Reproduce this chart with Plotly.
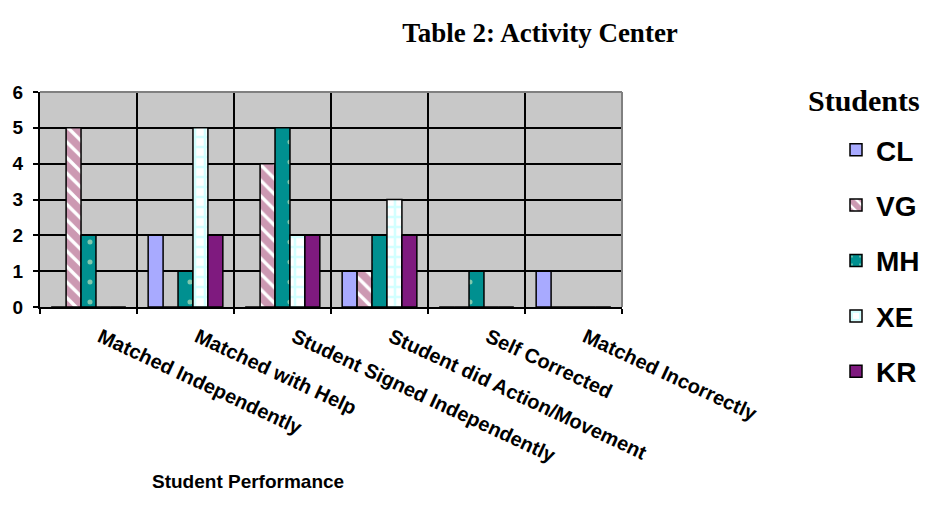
import plotly.graph_objects as go

categories = ["Matched Independently", "Matched with Help", "Student Signed Independently",
              "Student did Action/Movement", "Self Corrected", "Matched Incorrectly"]
students = ["CL", "VG", "MH", "XE", "KR"]
cl = [0, 2, 0, 1, 0, 1]
vg = [5, 0, 4, 1, 0, 0]
mh = [2, 1, 5, 2, 1, 0]
xe = [0, 5, 2, 3, 0, 0]
kr = [0, 2, 2, 2, 0, 0]
y_ticks = [0, 1, 2, 3, 4, 5, 6]

series = [cl, vg, mh, xe, kr]
styles = [
    dict(color="#A8AAFF", pattern=dict(shape="")),
    dict(color="#FFFFFF", pattern=dict(shape="\\", fgcolor="#993366", bgcolor="#FFFFFF", size=11, solidity=0.7)),
    dict(color="#009090", pattern=dict(shape=".", fgcolor="#FFFFCC", bgcolor="#009090", size=20, solidity=0.05)),
    dict(color="#FFFFFF", pattern=dict(shape="+", fgcolor="#A8FFFF", bgcolor="#FFFFFF", size=10, solidity=0.45)),
    dict(color="#7F1A7F", pattern=dict(shape="")),
]

fig = go.Figure()
for name, vals, st in zip(students, series, styles):
    fig.add_trace(go.Bar(
        x=categories, y=vals, name=name, legendgroup=name,
        marker=dict(color=st["color"], pattern=st["pattern"],
                    line=dict(color="#000000", width=1.5)),
    ))

W, H = 926, 518
fig.update_layout(
    width=W, height=H,
    margin=dict(l=40, r=304, t=92, b=211, autoexpand=False),
    paper_bgcolor="#FFFFFF",
    plot_bgcolor="#C8C8C8",
    barmode="group", bargap=0.23, bargroupgap=0,
    title=dict(text="Table 2: Activity Center", x=540 / W, xanchor="center",
               y=1 - 33 / H, yanchor="middle",
               font=dict(family="Liberation Serif", size=27, color="#000000", weight="bold")),
    legend=dict(
        xref="container", yref="container",
        x=836 / W, xanchor="left", y=1 - 125 / H, yanchor="top",
        traceorder="grouped", tracegroupgap=16, maxheight=450,
        font=dict(family="Liberation Sans", size=28, color="#000000", weight="bold"),
        bgcolor="rgba(0,0,0,0)",
    ),
    font=dict(family="Liberation Sans", color="#000000"),
)
fig.update_xaxes(
    type="category", tickson="boundaries", showgrid=True, gridcolor="#000000", gridwidth=2,
    ticks="outside", ticklen=5, tickcolor="#000000", tickwidth=2,
    tickangle=25, ticklabelshift=12, ticklabelstandoff=9,
    tickfont=dict(family="Liberation Sans", size=20, color="#000000", weight="bold"),
    showline=True, linecolor="#000000", linewidth=2, mirror=False,
    automargin=False,
)
fig.update_yaxes(
    range=[0, 6], tickvals=y_ticks,
    showgrid=True, gridcolor="#000000", gridwidth=2, zeroline=False,
    ticks="outside", ticklen=5, tickcolor="#000000", tickwidth=2, ticklabelstandoff=6,
    tickfont=dict(family="Liberation Sans", size=19, color="#000000", weight="bold"),
    showline=True, linecolor="#000000", linewidth=2, automargin=False,
)
# gray frame on top/right
fig.add_shape(type="line", xref="paper", yref="paper", x0=0, x1=1, y0=1, y1=1,
              line=dict(color="#808080", width=2))
fig.add_shape(type="line", xref="paper", yref="paper", x0=1, x1=1, y0=0, y1=1,
              line=dict(color="#808080", width=2))
fig.add_annotation(text="Students", xref="paper", yref="paper",
                   x=(864 - 40) / 582, y=(307 - 100) / 215, xanchor="center", yanchor="middle",
                   showarrow=False,
                   font=dict(family="Liberation Serif", size=30, color="#000000", weight="bold"))
fig.add_annotation(text="Student Performance", xref="paper", yref="paper",
                   x=(248 - 40) / 582, y=-(481 - 307) / 215, xanchor="center", yanchor="middle",
                   showarrow=False,
                   font=dict(family="Liberation Sans", size=19, color="#000000", weight="bold"))

fig.write_html("out.html", config={"displayModeBar": False},
               post_script="document.body.style.margin='0';")
